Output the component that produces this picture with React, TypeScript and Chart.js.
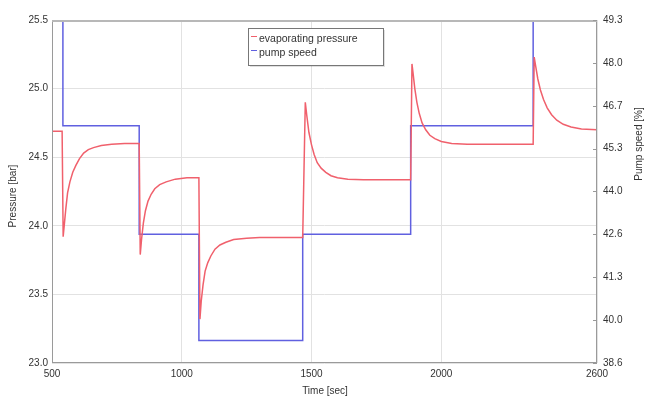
import React, { useEffect, useRef } from "react";
import { Chart, registerables } from "chart.js";

Chart.register(...registerables);

// ---- data ----
const pressureTime = [
  500, 539, 543, 548, 553, 560, 569, 580, 592, 606, 622, 640, 660, 690, 730, 780, 836,
  840, 845, 852, 860, 870, 882, 896, 915, 940, 975, 1020, 1066,
  1070, 1075, 1082, 1090, 1100, 1112, 1128, 1147, 1170, 1200, 1250, 1300, 1466,
  1476, 1482, 1490, 1500, 1510, 1522, 1537, 1555, 1575, 1600, 1640, 1700, 1882,
  1887, 1892, 1898, 1906, 1915, 1926, 1940, 1956, 1975, 2000, 2040, 2100, 2354,
  2358, 2364, 2372, 2382, 2394, 2408, 2425, 2445, 2470, 2500, 2540, 2600,
];
const pressureValues = [
  24.69, 24.69, 23.92, 24.02, 24.12, 24.24, 24.32, 24.39, 24.44, 24.49, 24.53, 24.555, 24.57, 24.585, 24.595, 24.6, 24.6,
  23.79, 23.9, 24.02, 24.11, 24.18, 24.23, 24.27, 24.3, 24.32, 24.34, 24.35, 24.35,
  23.32, 23.45, 23.57, 23.67, 23.73, 23.78, 23.83, 23.86, 23.88, 23.9, 23.91, 23.915, 23.915,
  24.9, 24.8, 24.68, 24.59, 24.52, 24.46, 24.42, 24.39, 24.365, 24.35, 24.34, 24.335, 24.335,
  25.18, 25.1, 25.0, 24.9, 24.82, 24.75, 24.7, 24.66, 24.635, 24.615, 24.6, 24.595, 24.595,
  25.23, 25.16, 25.07, 24.99, 24.92, 24.86, 24.81, 24.77, 24.74, 24.72, 24.705, 24.7,
];
const pumpTime = [500, 542, 542, 836, 836, 1066, 1066, 1466, 1466, 1882, 1882, 2354, 2354, 2600];
const pumpValues = [49.3, 49.3, 46.0, 46.0, 42.62, 42.62, 39.3, 39.3, 42.62, 42.62, 46.0, 46.0, 49.3, 49.3];

const xTicks = [500, 1000, 1500, 2000, 2600];
const leftTicks = [23.0, 23.5, 24.0, 24.5, 25.0, 25.5];
const rightTicks = [38.6, 39.9375, 41.275, 42.6125, 43.95, 45.2875, 46.625, 47.9625, 49.3];
const rightTickLabels = ["38.6", "40.0", "41.3", "42.6", "44.0", "45.3", "46.7", "48.0", "49.3"];

const seriesLabels = ["evaporating pressure", "pump speed"];
const xTitle = "Time [sec]";
const leftTitle = "Pressure [bar]";
const rightTitle = "Pump speed [%]";

const RED = "rgb(240,96,108)";
const BLUE = "rgb(96,96,224)";
const FONT = "'Liberation Sans', Arial, sans-serif";

const decorPlugin = {
  id: "decor",
  afterDraw(chart: any) {
    const ctx = chart.ctx;
    const a = chart.chartArea;
    ctx.save();
    // frame
    ctx.strokeStyle = "#9a9a9a";
    ctx.lineWidth = 1;
    ctx.strokeRect(a.left + 0.5, a.top + 0.5, a.right - a.left - 1, a.bottom - a.top - 1);
    ctx.strokeStyle = "#b8b8b8";
    ctx.lineWidth = 2;
    ctx.beginPath();
    ctx.moveTo(a.left, a.top + 1);
    ctx.lineTo(a.right, a.top + 1);
    ctx.stroke();
    // right axis inner ticks
    const r = chart.scales.y1;
    ctx.strokeStyle = "#999";
    ctx.lineWidth = 1;
    rightTicks.forEach((v) => {
      const py = Math.round(r.getPixelForValue(v)) + 0.5;
      ctx.beginPath();
      ctx.moveTo(a.right - 4, py);
      ctx.lineTo(a.right, py);
      ctx.stroke();
    });
    // axis titles
    ctx.fillStyle = "#333";
    ctx.font = `10px ${FONT}`;
    ctx.textAlign = "center";
    ctx.textBaseline = "middle";
    ctx.fillText(xTitle, 325, 391);
    ctx.save();
    ctx.translate(13, 196);
    ctx.rotate(-Math.PI / 2);
    ctx.fillText(leftTitle, 0, 0);
    ctx.restore();
    ctx.save();
    ctx.translate(639, 144);
    ctx.rotate(-Math.PI / 2);
    ctx.fillText(rightTitle, 0, 0);
    ctx.restore();
    // legend
    const bx = 248, by = 28, bw = 135, bh = 37;
    ctx.fillStyle = "rgba(0,0,0,0.12)";
    ctx.fillRect(bx + 2, by + 2, bw, bh);
    ctx.fillStyle = "#fff";
    ctx.fillRect(bx, by, bw, bh);
    ctx.strokeStyle = "#777";
    ctx.lineWidth = 1;
    ctx.strokeRect(bx + 0.5, by + 0.5, bw, bh);
    const colors = [RED, BLUE];
    chart.data.datasets.forEach((ds: any, i: number) => {
      const yy = by + 11 + i * 14;
      ctx.strokeStyle = colors[i];
      ctx.lineWidth = 1;
      ctx.beginPath();
      ctx.moveTo(bx + 3, yy - 2.5);
      ctx.lineTo(bx + 9, yy - 2.5);
      ctx.stroke();
      ctx.fillStyle = "#333";
      ctx.textAlign = "left";
      ctx.font = `10.5px ${FONT}`;
      ctx.fillText(ds.label, bx + 11, yy);
    });
    ctx.restore();
  },
};

export default function App() {
  const ref = useRef<HTMLCanvasElement | null>(null);
  useEffect(() => {
    if (!ref.current) return;
    const chart = new Chart(ref.current, {
      type: "line",
      data: {
        datasets: [
          {
            label: seriesLabels[0],
            data: pressureTime.map((t, i) => ({ x: t, y: pressureValues[i] })),
            borderColor: RED,
            borderWidth: 1.5,
            pointRadius: 0,
            tension: 0,
            yAxisID: "y",
          },
          {
            label: seriesLabels[1],
            data: pumpTime.map((t, i) => ({ x: t, y: pumpValues[i] })),
            borderColor: BLUE,
            borderWidth: 1.5,
            pointRadius: 0,
            tension: 0,
            yAxisID: "y1",
          },
        ],
      },
      options: {
        responsive: false,
        animation: false,
        layout: { padding: { top: 20, left: 0, right: 0, bottom: 0 } },
        plugins: { legend: { display: false }, tooltip: { enabled: false } },
        scales: {
          x: {
            type: "linear",
            min: 500,
            max: 2600,
            afterBuildTicks: (s: any) => {
              s.ticks = xTicks.map((v) => ({ value: v }));
            },
            afterFit: (s: any) => {
              s.height = 36;
            },
            grid: { color: "#e2e2e2", drawTicks: false },
            border: { display: false },
            ticks: {
              color: "#333",
              font: { family: FONT, size: 10 },
              padding: 5,
              maxRotation: 0,
              autoSkip: false,
              callback: (v: any) => String(v),
            },
          },
          y: {
            type: "linear",
            position: "left",
            min: 23,
            max: 25.5,
            afterBuildTicks: (s: any) => {
              s.ticks = leftTicks.map((v) => ({ value: v }));
            },
            afterFit: (s: any) => {
              s.width = 52;
            },
            grid: { color: "#e2e2e2", drawTicks: false },
            border: { display: false },
            ticks: {
              color: "#333",
              font: { family: FONT, size: 10 },
              padding: 4,
              autoSkip: false,
              callback: (v: any) => Number(v).toFixed(1),
            },
          },
          y1: {
            type: "linear",
            position: "right",
            min: 38.6,
            max: 49.3,
            afterBuildTicks: (s: any) => {
              s.ticks = rightTicks.map((v) => ({ value: v }));
            },
            afterFit: (s: any) => {
              s.width = 52;
            },
            grid: { drawOnChartArea: false, drawTicks: false },
            border: { display: false },
            ticks: {
              color: "#333",
              font: { family: FONT, size: 10 },
              padding: 6,
              autoSkip: false,
              callback: (_v: any, i: number) => rightTickLabels[i],
            },
          },
        },
      },
      plugins: [decorPlugin],
    } as any);
    return () => chart.destroy();
  }, []);
  return (
    <div style={{ position: "absolute", left: 0, top: 0, width: 649, height: 399, background: "#fff" }}>
      <canvas ref={ref} width={649} height={399} style={{ display: "block" }} />
    </div>
  );
}
